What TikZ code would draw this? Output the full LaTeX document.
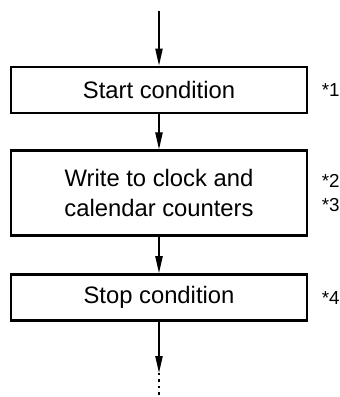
\documentclass[tikz,border=0pt]{standalone}
\usepackage{fontspec}
\setmainfont{Liberation Sans}
\usetikzlibrary{positioning,arrows.meta}

\begin{document}
\begin{tikzpicture}[
    node distance=17.5pt,
    stage/.style={draw, line width=1.4pt, minimum width=148pt, minimum height=23pt,
        align=center, font=\fontsize{11.9}{15}\selectfont},
    note/.style={inner sep=0pt, align=left, font=\fontsize{9.4}{12}\selectfont},
    flow/.style={-{Triangle[length=8.5pt,width=3.6pt]}, line width=0.8pt}
]
\useasboundingbox (0,0) rectangle (169.5pt,-198.5pt);
\node[stage] (start) at (79.5pt,-45pt) {Start condition};
\node[stage, minimum height=42.5pt, below=of start] (write) {Write to clock and\\calendar counters};
\node[stage, below=18pt of write] (stop) {Stop condition};

\node[note, right=6.5pt of start] (n1) {*1};
\node[note, right=6.5pt of write] (n23) {*2\\*3};
\node[note, right=6.5pt of stop] (n4) {*4};

\coordinate[above=27.5pt of start] (in);
\coordinate[below=25.5pt of stop] (out);
\coordinate[below=15pt of out] (more);

\draw[flow] (in) -- (start);
\draw[flow] (start) -- (write);
\draw[flow] (write) -- (stop);
\draw[flow] (stop) -- (out);
\draw[line width=0.8pt, dash pattern=on 1.2pt off 2pt] (out) -- (more);
\end{tikzpicture}
\end{document}
